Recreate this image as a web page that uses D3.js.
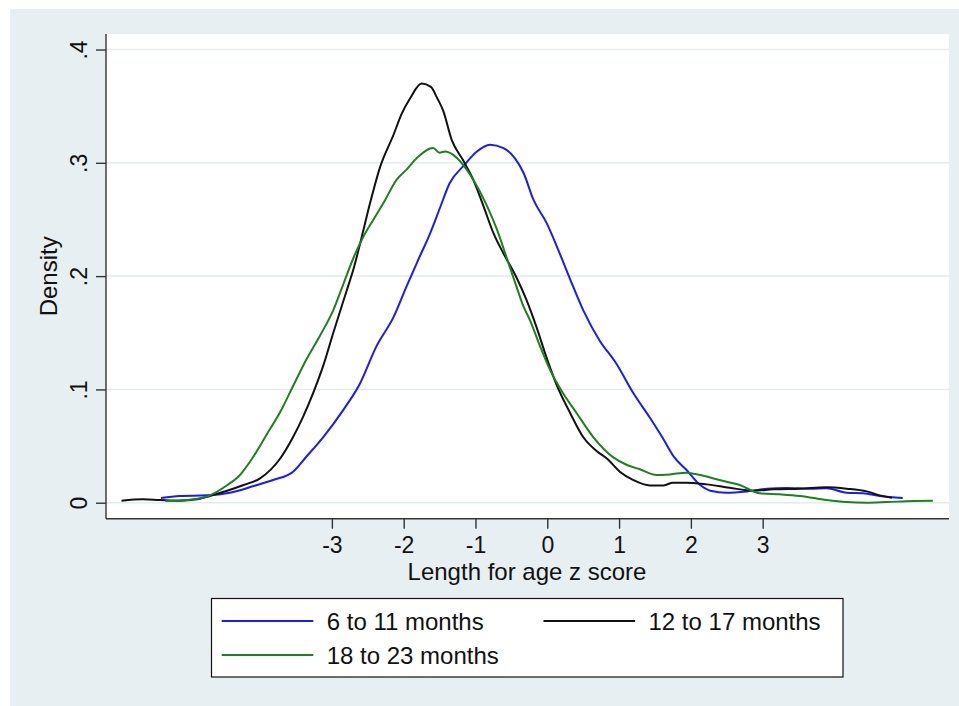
<!DOCTYPE html>
<html>

<head>
  <script src="https://d3js.org/d3.v7.min.js"></script>
  <meta charset='utf-8'>
  <title></title>
  <style>
    body {
      margin: 0;
      background-color: #fff;
    }

    text {
      font-family: "Liberation Sans", Arial, sans-serif;
      fill: #111;
    }
  </style>
</head>

<body>
  <div id='chart'></div>
  <script>
    // kernel density estimates, [z score, density]
    var months6to11 = [
      [-5.38, 0.0041], [-5.12, 0.0060], [-4.74, 0.0065], [-4.42, 0.0088], [-4.09, 0.0147],
      [-3.82, 0.0200], [-3.54, 0.0274], [-3.35, 0.041], [-3.12, 0.058], [-2.84, 0.082],
      [-2.61, 0.105], [-2.38, 0.138], [-2.14, 0.164], [-1.96, 0.191], [-1.80, 0.214],
      [-1.63, 0.238], [-1.49, 0.261], [-1.36, 0.282], [-1.17, 0.297], [-0.98, 0.310],
      [-0.80, 0.316], [-0.61, 0.313], [-0.45, 0.304], [-0.33, 0.291], [-0.19, 0.267],
      [-0.01, 0.247], [0.18, 0.219], [0.32, 0.197], [0.50, 0.170], [0.73, 0.143],
      [0.95, 0.124], [1.20, 0.0966], [1.43, 0.075], [1.60, 0.058], [1.77, 0.040],
      [1.94, 0.0289], [2.13, 0.0156], [2.27, 0.0106], [2.50, 0.0088], [2.78, 0.0100],
      [3.06, 0.0124], [3.33, 0.0130], [3.66, 0.0124], [3.89, 0.0127], [4.17, 0.0088],
      [4.40, 0.0083], [4.63, 0.0060], [4.95, 0.0041]
    ];

    var months12to17 = [
      [-5.93, 0.0018], [-5.63, 0.0030], [-5.40, 0.0024], [-5.12, 0.0018], [-4.88, 0.0030],
      [-4.70, 0.0060], [-4.47, 0.0103], [-4.23, 0.0156], [-4.00, 0.0215], [-3.72, 0.039],
      [-3.54, 0.058], [-3.40, 0.076], [-3.26, 0.097], [-3.12, 0.121], [-2.98, 0.150],
      [-2.79, 0.188], [-2.70, 0.206], [-2.59, 0.233], [-2.47, 0.264], [-2.33, 0.296],
      [-2.14, 0.325], [-2.03, 0.343], [-1.91, 0.357], [-1.75, 0.370], [-1.62, 0.367],
      [-1.54, 0.358], [-1.45, 0.346], [-1.33, 0.320], [-1.17, 0.302], [-1.03, 0.285],
      [-0.89, 0.262], [-0.75, 0.238], [-0.61, 0.220], [-0.43, 0.199], [-0.29, 0.179],
      [-0.15, 0.155], [-0.01, 0.128], [0.13, 0.104], [0.32, 0.079], [0.50, 0.058],
      [0.69, 0.0455], [0.83, 0.039], [1.01, 0.0274], [1.20, 0.0200], [1.43, 0.0153],
      [1.62, 0.0153], [1.75, 0.0177], [1.94, 0.0177], [2.22, 0.0162], [2.54, 0.0132],
      [2.87, 0.0106], [3.15, 0.0118], [3.52, 0.0124], [3.89, 0.0136], [4.17, 0.0124],
      [4.45, 0.0100], [4.63, 0.0065], [4.80, 0.0044]
    ];

    var months18to23 = [
      [-5.32, 0.0015], [-5.02, 0.0024], [-4.74, 0.0055], [-4.47, 0.0150], [-4.28, 0.0245],
      [-4.09, 0.041], [-3.91, 0.060], [-3.72, 0.080], [-3.54, 0.103], [-3.35, 0.127],
      [-3.17, 0.147], [-2.98, 0.170], [-2.84, 0.193], [-2.70, 0.216], [-2.56, 0.235],
      [-2.42, 0.250], [-2.26, 0.267], [-2.10, 0.285], [-1.96, 0.294], [-1.82, 0.304],
      [-1.59, 0.313], [-1.50, 0.309], [-1.42, 0.310], [-1.31, 0.307], [-1.17, 0.298],
      [-1.03, 0.285], [-0.84, 0.262], [-0.70, 0.241], [-0.57, 0.217], [-0.43, 0.191],
      [-0.33, 0.173], [-0.24, 0.161], [-0.10, 0.138], [0.04, 0.117], [0.22, 0.0966],
      [0.41, 0.079], [0.64, 0.058], [0.92, 0.040], [1.11, 0.0333], [1.29, 0.0295],
      [1.52, 0.0244], [1.71, 0.0250], [1.94, 0.0265], [2.13, 0.0244], [2.40, 0.0200],
      [2.68, 0.0156], [2.96, 0.0083], [3.24, 0.0074], [3.52, 0.0060], [3.89, 0.0024],
      [4.17, 0.0006], [4.45, 0.0000], [4.73, 0.0006], [5.10, 0.0015], [5.37, 0.0018]
    ];

    var seriesNames = ['6 to 11 months', '12 to 17 months', '18 to 23 months'];
    var seriesColors = ['#1a1aff', '#111111', '#1e801e'];
    var xTicks = [-3, -2, -1, 0, 1, 2, 3];
    var yTicks = [0, 0.1, 0.2, 0.3, 0.4];
    var yTickLabels = ['0', '.1', '.2', '.3', '.4'];

    var width = 959,
      height = 706;
    var plot = { left: 106, right: 949, top: 34, bottom: 518.7 };

    var svg = d3.select('#chart')
      .append('svg')
      .attr('width', width)
      .attr('height', height);

    // Stata-style outer region and plot region
    svg.append('rect')
      .attr('x', 10).attr('y', 9)
      .attr('width', width - 10).attr('height', height - 9)
      .attr('fill', '#e8eff2');

    svg.append('rect')
      .attr('x', plot.left).attr('y', plot.top)
      .attr('width', plot.right - plot.left).attr('height', plot.bottom - plot.top)
      .attr('fill', '#fff');

    var x = d3.scaleLinear().domain([-6.146, 5.595]).range([plot.left, plot.right]);
    var y = d3.scaleLinear().domain([-0.0141, 0.4137]).range([plot.bottom, plot.top]);

    svg.append('g')
      .selectAll('line')
      .data(yTicks)
      .enter()
      .append('line')
      .attr('x1', plot.left).attr('x2', plot.right)
      .attr('y1', y).attr('y2', y)
      .attr('stroke', '#e2ebef')
      .attr('stroke-width', 1.5);

    var line = d3.line()
      .x(function(d) { return x(d[0]); })
      .y(function(d) { return y(d[1]); })
      .curve(d3.curveMonotoneX);

    var allSeries = [months6to11, months12to17, months18to23];

    svg.append('g')
      .selectAll('path')
      .data(allSeries)
      .enter()
      .append('path')
      .attr('d', line)
      .attr('fill', 'none')
      .attr('stroke', function(d, i) { return seriesColors[i]; })
      .attr('stroke-width', 2)
      .attr('stroke-linejoin', 'round');

    // axes
    var yAxis = svg.append('g')
      .attr('transform', 'translate(' + plot.left + ',0)')
      .call(d3.axisLeft(y).tickValues(yTicks).tickSize(10)
        .tickFormat(function(d, i) { return yTickLabels[i]; }));

    yAxis.selectAll('text')
      .attr('transform', 'rotate(-90)')
      .attr('x', 0)
      .attr('y', -19)
      .attr('dy', 0)
      .style('text-anchor', 'middle')
      .style('font-size', '23px');

    var xAxis = svg.append('g')
      .attr('transform', 'translate(0,' + plot.bottom + ')')
      .call(d3.axisBottom(x).tickValues(xTicks).tickSize(10)
        .tickFormat(function(d) { return String(d); }));

    xAxis.selectAll('text')
      .attr('y', 34.5)
      .attr('dy', 0)
      .style('font-size', '23px');

    [yAxis, xAxis].forEach(function(a) {
      a.selectAll('line').attr('stroke', '#333').attr('stroke-width', 1.4);
      a.select('.domain').remove();
    });

    // plain axis lines
    svg.append('line')
      .attr('x1', plot.left).attr('x2', plot.left)
      .attr('y1', plot.top).attr('y2', plot.bottom)
      .attr('stroke', '#333').attr('stroke-width', 1.4);
    svg.append('line')
      .attr('x1', plot.left).attr('x2', plot.right)
      .attr('y1', plot.bottom).attr('y2', plot.bottom)
      .attr('stroke', '#333').attr('stroke-width', 1.4);

    svg.append('text')
      .attr('x', 527)
      .attr('y', 580)
      .attr('text-anchor', 'middle')
      .style('font-size', '24px')
      .text('Length for age z score');

    svg.append('text')
      .attr('transform', 'translate(57,' + (plot.top + plot.bottom) / 2 + ') rotate(-90)')
      .attr('text-anchor', 'middle')
      .style('font-size', '24px')
      .text('Density');

    // legend
    var legend = svg.append('g').attr('class', 'legend');

    legend.append('rect')
      .attr('x', 211.5).attr('y', 598.5)
      .attr('width', 631.5).attr('height', 78.5)
      .attr('fill', '#fff')
      .attr('stroke', '#111')
      .attr('stroke-width', 1.2);

    var legendPos = [[221.7, 621], [543.5, 621], [221.7, 655]];

    var item = legend.selectAll('g')
      .data(seriesNames)
      .enter()
      .append('g')
      .attr('transform', function(d, i) {
        return 'translate(' + legendPos[i][0] + ',' + legendPos[i][1] + ')';
      });

    item.append('line')
      .attr('x1', 0).attr('x2', 91.6)
      .attr('stroke', function(d, i) { return seriesColors[i]; })
      .attr('stroke-width', 2);

    item.append('text')
      .attr('x', 105)
      .attr('y', 9.3)
      .style('font-size', '24px')
      .text(function(d) { return d; });
  </script>
</body>

</html>
